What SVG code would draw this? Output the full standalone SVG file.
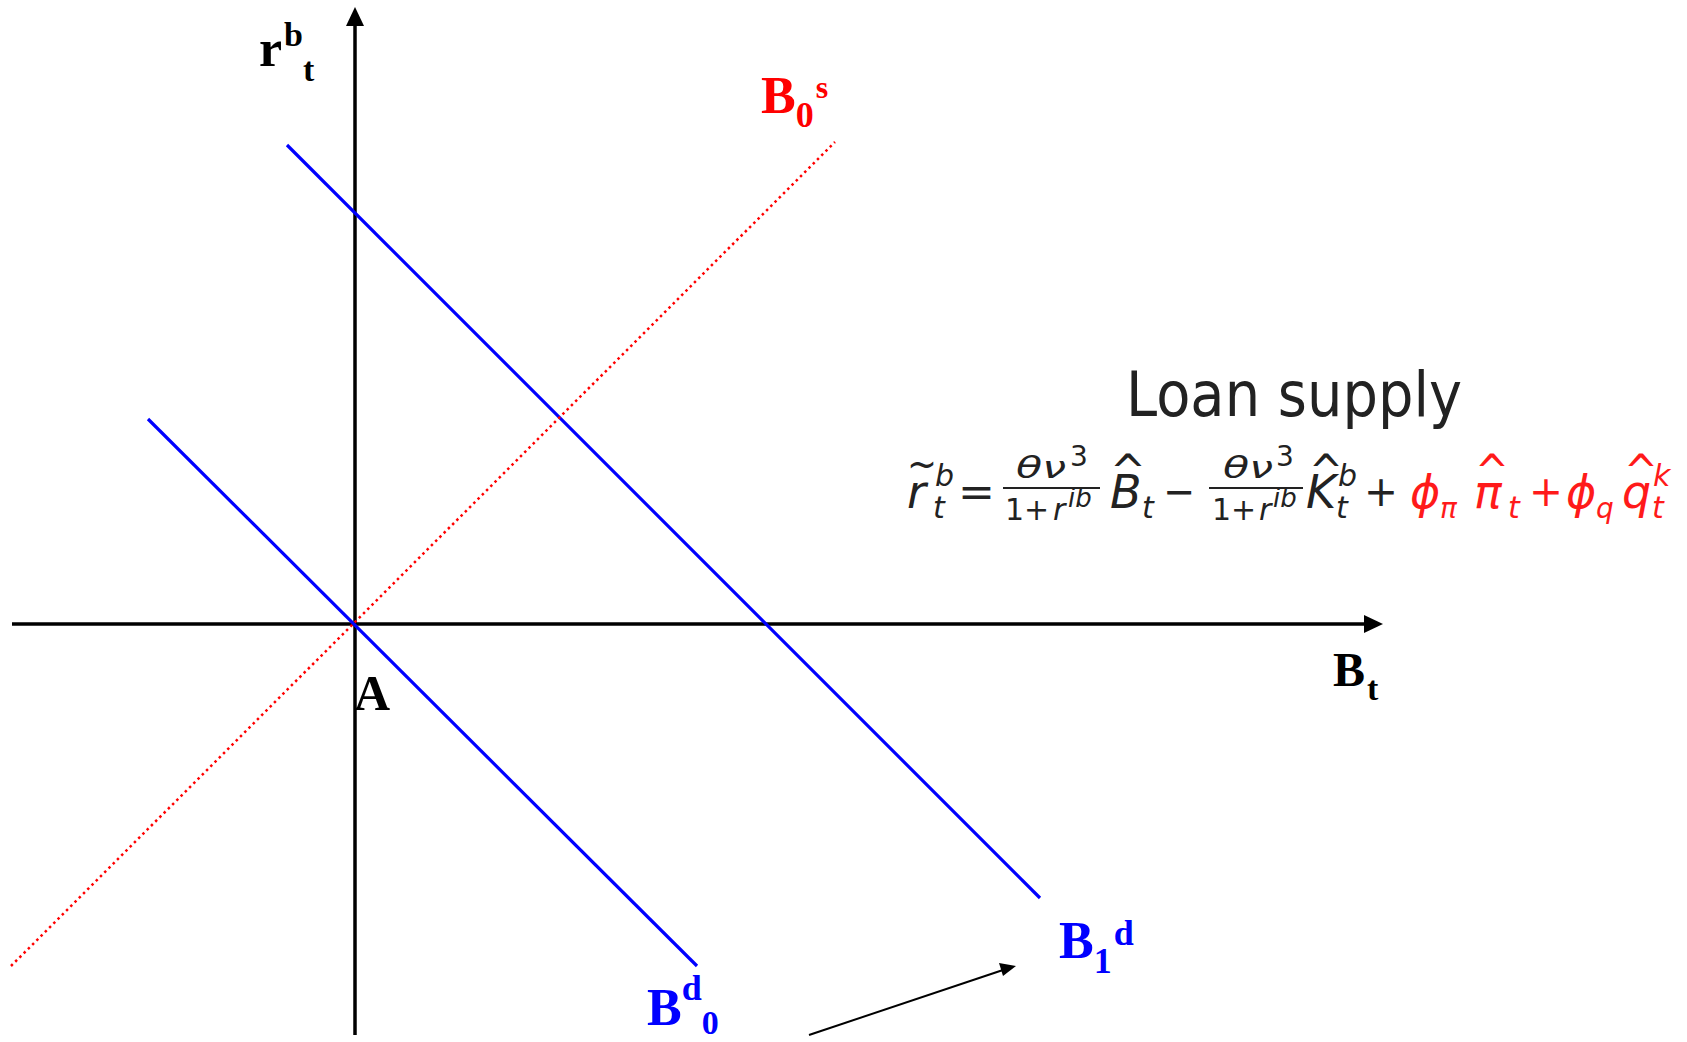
<svg xmlns="http://www.w3.org/2000/svg" width="1687" height="1042" viewBox="0 0 1687 1042">
<style>
.lbl{font-family:"Liberation Serif","Times New Roman",serif;font-weight:bold}
.f{font-family:"DejaVu Sans",sans-serif;fill:#222}
.i{font-style:italic}
.red{fill:#ff1a1a}
.ax{stroke:#000;stroke-width:3.5;fill:none}
.blue{stroke:#0000ff;stroke-width:3.2;fill:none}
</style>
<rect width="1687" height="1042" fill="#fff"/>
<g id="axes">
<line class="ax" x1="355" y1="1035" x2="355" y2="22"/>
<path d="M355,7 L346,26 L364,26 z" fill="#000"/>
<line class="ax" x1="12" y1="624" x2="1367" y2="624"/>
<path d="M1383,624 L1364,615 L1364,633 z" fill="#000"/>
</g>
<g id="curves">
<line class="blue" x1="148" y1="419" x2="697" y2="966"/>
<line class="blue" x1="287" y1="145" x2="1040" y2="898"/>
<line x1="11" y1="966" x2="835" y2="142" stroke="#ff0000" stroke-width="2.5" stroke-dasharray="2.5 3.5"/>
<line x1="809" y1="1035" x2="1003" y2="970" stroke="#000" stroke-width="2"/>
<path d="M1016,966 L999,963 L1003,976 z" fill="#000"/>
</g>
<g id="labels">
<text class="lbl" x="259" y="66" font-size="52">r<tspan font-size="34" dx="2" dy="-20">b</tspan><tspan font-size="34" dy="35">t</tspan></text>
<text class="lbl" x="1333" y="686" font-size="48">B<tspan font-size="34" dx="2" dy="14">t</tspan></text>
<text class="lbl" x="354" y="710" font-size="50">A</text>
<text class="lbl" x="761" y="113" font-size="52" fill="#ff0000">B<tspan font-size="36" dy="14">0</tspan><tspan font-size="32" dx="2" dy="-29">s</tspan></text>
<text class="lbl" x="647" y="1025" font-size="52" fill="#0000ff">B<tspan font-size="36" dy="-25">d</tspan><tspan font-size="34" dy="34">0</tspan></text>
<text class="lbl" x="1059" y="958" font-size="52" fill="#0000ff">B<tspan font-size="36" dy="15">1</tspan><tspan font-size="36" dx="2" dy="-28">d</tspan></text>
</g>
<g id="formula">
<text class="f" x="1126" y="416" font-size="62" textLength="336" lengthAdjust="spacingAndGlyphs">Loan supply</text>
<line x1="1003" y1="488" x2="1100" y2="488" stroke="#222" stroke-width="2"/>
<line x1="1209" y1="488" x2="1303" y2="488" stroke="#222" stroke-width="2"/>
<text class="f" font-size="46"><tspan class="i" x="907" y="508">r</tspan><tspan x="907" y="478" font-size="40" textLength="30" lengthAdjust="spacingAndGlyphs">~</tspan><tspan class="i" x="935" y="486" font-size="30">b</tspan><tspan class="i" x="933" y="518" font-size="30">t</tspan><tspan x="958" y="506" font-size="42" textLength="37" lengthAdjust="spacingAndGlyphs">=</tspan><tspan class="i" x="1016" y="478" font-size="30" textLength="50" lengthAdjust="spacingAndGlyphs">θν</tspan><tspan x="1070" y="466" font-size="28">3</tspan><tspan x="1005" y="520" font-size="30">1+</tspan><tspan class="i" x="1053" y="520" font-size="30">r</tspan><tspan class="i" x="1068" y="507" font-size="26">ib</tspan><tspan class="i" x="1110" y="508">B</tspan><tspan x="1110" y="487" textLength="36" lengthAdjust="spacingAndGlyphs">^</tspan><tspan class="i" x="1142" y="518" font-size="30">t</tspan><tspan x="1163" y="506" font-size="42" textLength="32" lengthAdjust="spacingAndGlyphs">−</tspan><tspan class="i" x="1223" y="478" font-size="30" textLength="50" lengthAdjust="spacingAndGlyphs">θν</tspan><tspan x="1276" y="466" font-size="28">3</tspan><tspan x="1212" y="520" font-size="30">1+</tspan><tspan class="i" x="1259" y="520" font-size="30">r</tspan><tspan class="i" x="1273" y="507" font-size="26">ib</tspan><tspan class="i" x="1306" y="508">K</tspan><tspan x="1309" y="487" textLength="34" lengthAdjust="spacingAndGlyphs">^</tspan><tspan class="i" x="1338" y="486" font-size="30">b</tspan><tspan class="i" x="1336" y="518" font-size="30">t</tspan><tspan x="1364" y="506" font-size="42" textLength="34" lengthAdjust="spacingAndGlyphs">+</tspan><tspan class="i red" x="1410" y="508">ϕ</tspan><tspan class="i red" x="1440" y="518" font-size="28">π</tspan><tspan class="i red" x="1474" y="508">π</tspan><tspan class="red" x="1475" y="487" textLength="34" lengthAdjust="spacingAndGlyphs">^</tspan><tspan class="i red" x="1508" y="518" font-size="30">t</tspan><tspan class="red" x="1529" y="506" font-size="42" textLength="34" lengthAdjust="spacingAndGlyphs">+</tspan><tspan class="i red" x="1566" y="508">ϕ</tspan><tspan class="i red" x="1596" y="518" font-size="28">q</tspan><tspan class="i red" x="1622" y="508">q</tspan><tspan class="red" x="1624" y="487" textLength="34" lengthAdjust="spacingAndGlyphs">^</tspan><tspan class="i red" x="1653" y="486" font-size="30">k</tspan><tspan class="i red" x="1652" y="518" font-size="30">t</tspan></text>
</g>
</svg>
